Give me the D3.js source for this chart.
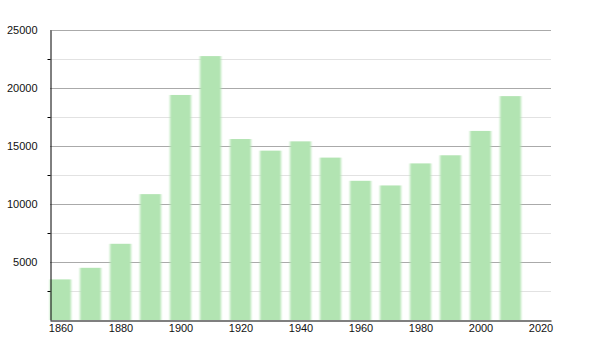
<!DOCTYPE html>
<html>
<head>
<meta charset="utf-8">
<script src="https://cdn.jsdelivr.net/npm/d3@7"></script>
<style>
  body { margin: 0; background: #fff; }
  text { font-family: "Liberation Sans", Arial, sans-serif; font-size: 11px; fill: #111; }
</style>
</head>
<body>
<div id="chart"></div>
<script>
// données
var years = [1860, 1870, 1880, 1890, 1900, 1910, 1920, 1930, 1940, 1950, 1960, 1970, 1980, 1990, 2000, 2010];
var population = [3500, 4500, 6570, 10850, 19400, 22750, 15600, 14600, 15400, 14000, 12000, 11600, 13500, 14200, 16300, 19300];
var yTicks = [5000, 10000, 15000, 20000, 25000];
var yMinor = [2500, 7500, 12500, 17500, 22500];
var xTicks = [1860, 1880, 1900, 1920, 1940, 1960, 1980, 2000, 2020];

var width = 600, height = 350;
var mLeft = 50, mRight = 551, mTop = 30, mBottom = 320;

var svg = d3.select("#chart").append("svg")
  .attr("width", width).attr("height", height);

var x = d3.scaleLinear().domain([1856.5, 2023.5]).range([mLeft, mRight]);
var y = d3.scaleLinear().domain([0, 25000]).range([mBottom, mTop]);

// flou des barres
var defs = svg.append("defs");
defs.append("filter").attr("id", "soft")
  .attr("x", "-20%").attr("y", "-5%").attr("width", "140%").attr("height", "110%")
  .append("feGaussianBlur").attr("stdDeviation", "0.9 0.5");

// grille mineure
svg.append("g").selectAll("line").data(yMinor).enter().append("line")
  .attr("x1", mLeft).attr("x2", mRight)
  .attr("y1", function(d){ return y(d) + 0.5; }).attr("y2", function(d){ return y(d) + 0.5; })
  .attr("stroke", "#e2e2e2").attr("stroke-width", 1);

// grille majeure
svg.append("g").selectAll("line").data(yTicks).enter().append("line")
  .attr("x1", mLeft).attr("x2", mRight)
  .attr("y1", function(d){ return y(d) + 0.5; }).attr("y2", function(d){ return y(d) + 0.5; })
  .attr("stroke", "#aaaaaa").attr("stroke-width", 1);

// barres
svg.append("g").attr("filter", "url(#soft)")
  .selectAll("rect").data(years).enter().append("rect")
  .attr("x", function(d){ return x(d) - 10.5; })
  .attr("width", 21)
  .attr("y", function(d, i){ return y(population[i]); })
  .attr("height", function(d, i){ return mBottom - y(population[i]); })
  .attr("fill", "#b2e4b2");

// axe y
var yAxis = d3.axisLeft(y).tickValues(yTicks).tickSize(0).tickPadding(13)
  .tickFormat(d3.format("d"));
var gy = svg.append("g").attr("transform", "translate(" + (mLeft + 0.5) + ",0)").call(yAxis);
gy.select(".domain").attr("stroke", "#000");
gy.selectAll("text").attr("font-size", null).attr("font-family", null).attr("fill", "#111");
gy.selectAll(".minor").data(yMinor).enter().append("line").attr("class", "minor")
  .attr("x1", -3).attr("x2", 0)
  .attr("y1", function(d){ return y(d) + 0.5; }).attr("y2", function(d){ return y(d) + 0.5; })
  .attr("stroke", "#000");

// axe x
var xAxis = d3.axisBottom(x).tickValues(xTicks).tickSize(0).tickPadding(4)
  .tickFormat(d3.format("d"));
var gx = svg.append("g").attr("transform", "translate(0," + (mBottom + 0.5) + ")").call(xAxis);
gx.select(".domain").attr("stroke", "#000").attr("stroke-width", 1.2);
gx.selectAll("text").attr("font-size", null).attr("font-family", null).attr("fill", "#111");
</script>
</body>
</html>
